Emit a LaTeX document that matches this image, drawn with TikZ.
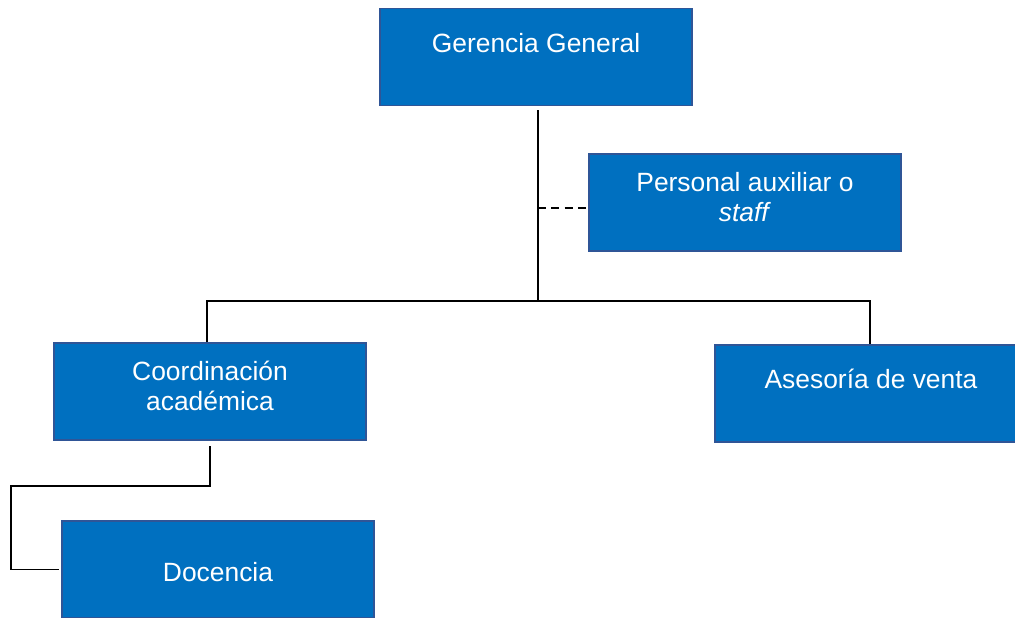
\documentclass[tikz,border=0pt]{standalone}
\usepackage{fontspec}
\setmainfont{Liberation Sans}
\definecolor{boxfill}{HTML}{0070C0}
\definecolor{boxline}{HTML}{2F5597}
\begin{document}
\begin{tikzpicture}[x=0.75pt,y=-0.75pt,
  orgbox/.style={rectangle, draw=boxline, line width=1.1pt, fill=boxfill,
    minimum width=234pt, minimum height=72.75pt, inner sep=0pt},
  boxtext/.style={text=white, align=center, font=\fontsize{19.8}{22.5}\selectfont, inner sep=0pt},
  link/.style={draw=black, line width=0.8pt}]
\useasboundingbox (0,0) rectangle (1015,618);
\clip (0,0) rectangle (1015,618);

% boxes
\node[orgbox] (gg) at (536,57) {};
\node[orgbox] (st) at (745,202.5) {};
\node[orgbox] (ca) at (210,391.5) {};
\node[orgbox] (av) at (871,393.5) {};
\node[orgbox] (dc) at (218,569.5) {};

% labels
\node[boxtext] (ggt) at (536,43) {Gerencia General};
\node[boxtext] (stt) at (745,197.5) {Personal auxiliar o\\\textit{staff}};
\node[boxtext] (cat) at (210,386) {Coordinación\\académica};
\node[boxtext] (avt) at (871,379) {Asesoría de venta};
\node[boxtext] (dct) at (218,572) {Docencia};

% junctions
\coordinate (trunk) at (538,301);
\coordinate (bl) at (207,301);
\coordinate (br) at (870,301);
\coordinate (dash) at (538,208);
\coordinate (k1) at (210,486);
\coordinate (k2) at (11,486);

% connectors
\draw[link] ([yshift=-3pt]gg.south -| trunk) -- (trunk);
\draw[link] (ca.north -| bl) -- (bl) -- (br) -- (av.north -| br);
\draw[link, dash pattern=on 6pt off 4pt] (dash) -- (st.west |- dash);
\draw[link] ([yshift=-4pt]ca.south -| k1) -- (k1) -- (k2) -- (k2 |- dc.west) -- ([xshift=-1.5pt]dc.west);
\end{tikzpicture}
\end{document}
